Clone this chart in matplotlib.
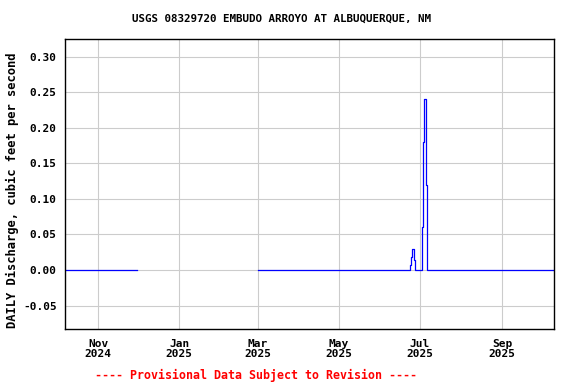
import matplotlib
matplotlib.use("Agg")
import matplotlib.pyplot as plt
import numpy as np
import pandas as pd

# Segments of record (daily values), baseline discharge zero
seg1_start, seg1_end = "2024-10-07", "2024-11-30"
seg2_start, seg2_end = "2025-03-01", "2025-10-09"
baseline = 0.0

# Non-zero daily discharge events (cfs)
event_dates = ["2025-06-24", "2025-06-25", "2025-06-26", "2025-06-27",
               "2025-07-03", "2025-07-04", "2025-07-05", "2025-07-06"]
event_values = [0.007, 0.019, 0.030, 0.014,
                0.06, 0.18, 0.24, 0.12]

yticks = [-0.05, 0.00, 0.05, 0.10, 0.15, 0.20, 0.25, 0.30]
xtick_dates = ["2024-11-01", "2025-01-01", "2025-03-01", "2025-05-01", "2025-07-01", "2025-09-01"]
xtick_labels = ["Nov\n2024", "Jan\n2025", "Mar\n2025", "May\n2025", "Jul\n2025", "Sep\n2025"]

title = "USGS 08329720 EMBUDO ARROYO AT ALBUQUERQUE, NM"
ylabel = "DAILY Discharge, cubic feet per second"
footer = "---- Provisional Data Subject to Revision ----"

# Build daily series
s1 = pd.Series(baseline, index=pd.date_range(seg1_start, seg1_end, freq="D"))
s2 = pd.Series(baseline, index=pd.date_range(seg2_start, seg2_end, freq="D"))
for d, v in zip(event_dates, event_values):
    s2[pd.Timestamp(d)] = v

font = "DejaVu Sans Mono"
fig = plt.figure(figsize=(5.76, 3.84), dpi=100)
ax = fig.add_axes([65/576, 55/384, (554-65)/576, (329-39)/384])

ax.plot(s1.index, s1.values, color="blue", lw=0.9, drawstyle="steps-mid")
ax.plot(s2.index, s2.values, color="blue", lw=0.9, drawstyle="steps-mid")

ax.set_xlim(pd.Timestamp("2024-10-07"), pd.Timestamp("2025-10-10"))
ax.set_ylim(-0.083, 0.325)
ax.set_yticks(yticks)
ax.set_yticklabels([f"{v:.2f}" for v in yticks], fontfamily=font, fontweight="bold", fontsize=8)
ax.set_xticks([pd.Timestamp(d) for d in xtick_dates])
ax.set_xticklabels(xtick_labels, fontfamily=font, fontweight="bold", fontsize=8, linespacing=1.0)
ax.tick_params(length=0, pad=6)
ax.tick_params(axis="x", pad=7)
ax.grid(True, color="#cccccc", lw=0.8)
ax.set_axisbelow(True)
for sp in ax.spines.values():
    sp.set_linewidth(1.0)
    sp.set_color("black")

ax.set_ylabel(ylabel, fontfamily=font, fontweight="bold", fontsize=8.7)
ax.yaxis.set_label_coords(-0.094, 0.48)
fig.text(281/576, 1 - 19/384, title, ha="center", va="center",
         fontfamily=font, fontweight="bold", fontsize=7.8)
fig.text(256/576, 1 - 375/384, footer, ha="center", va="center",
         fontfamily=font, fontweight="bold", fontsize=8.4, color="red")

fig.savefig("out.png", dpi=100)
